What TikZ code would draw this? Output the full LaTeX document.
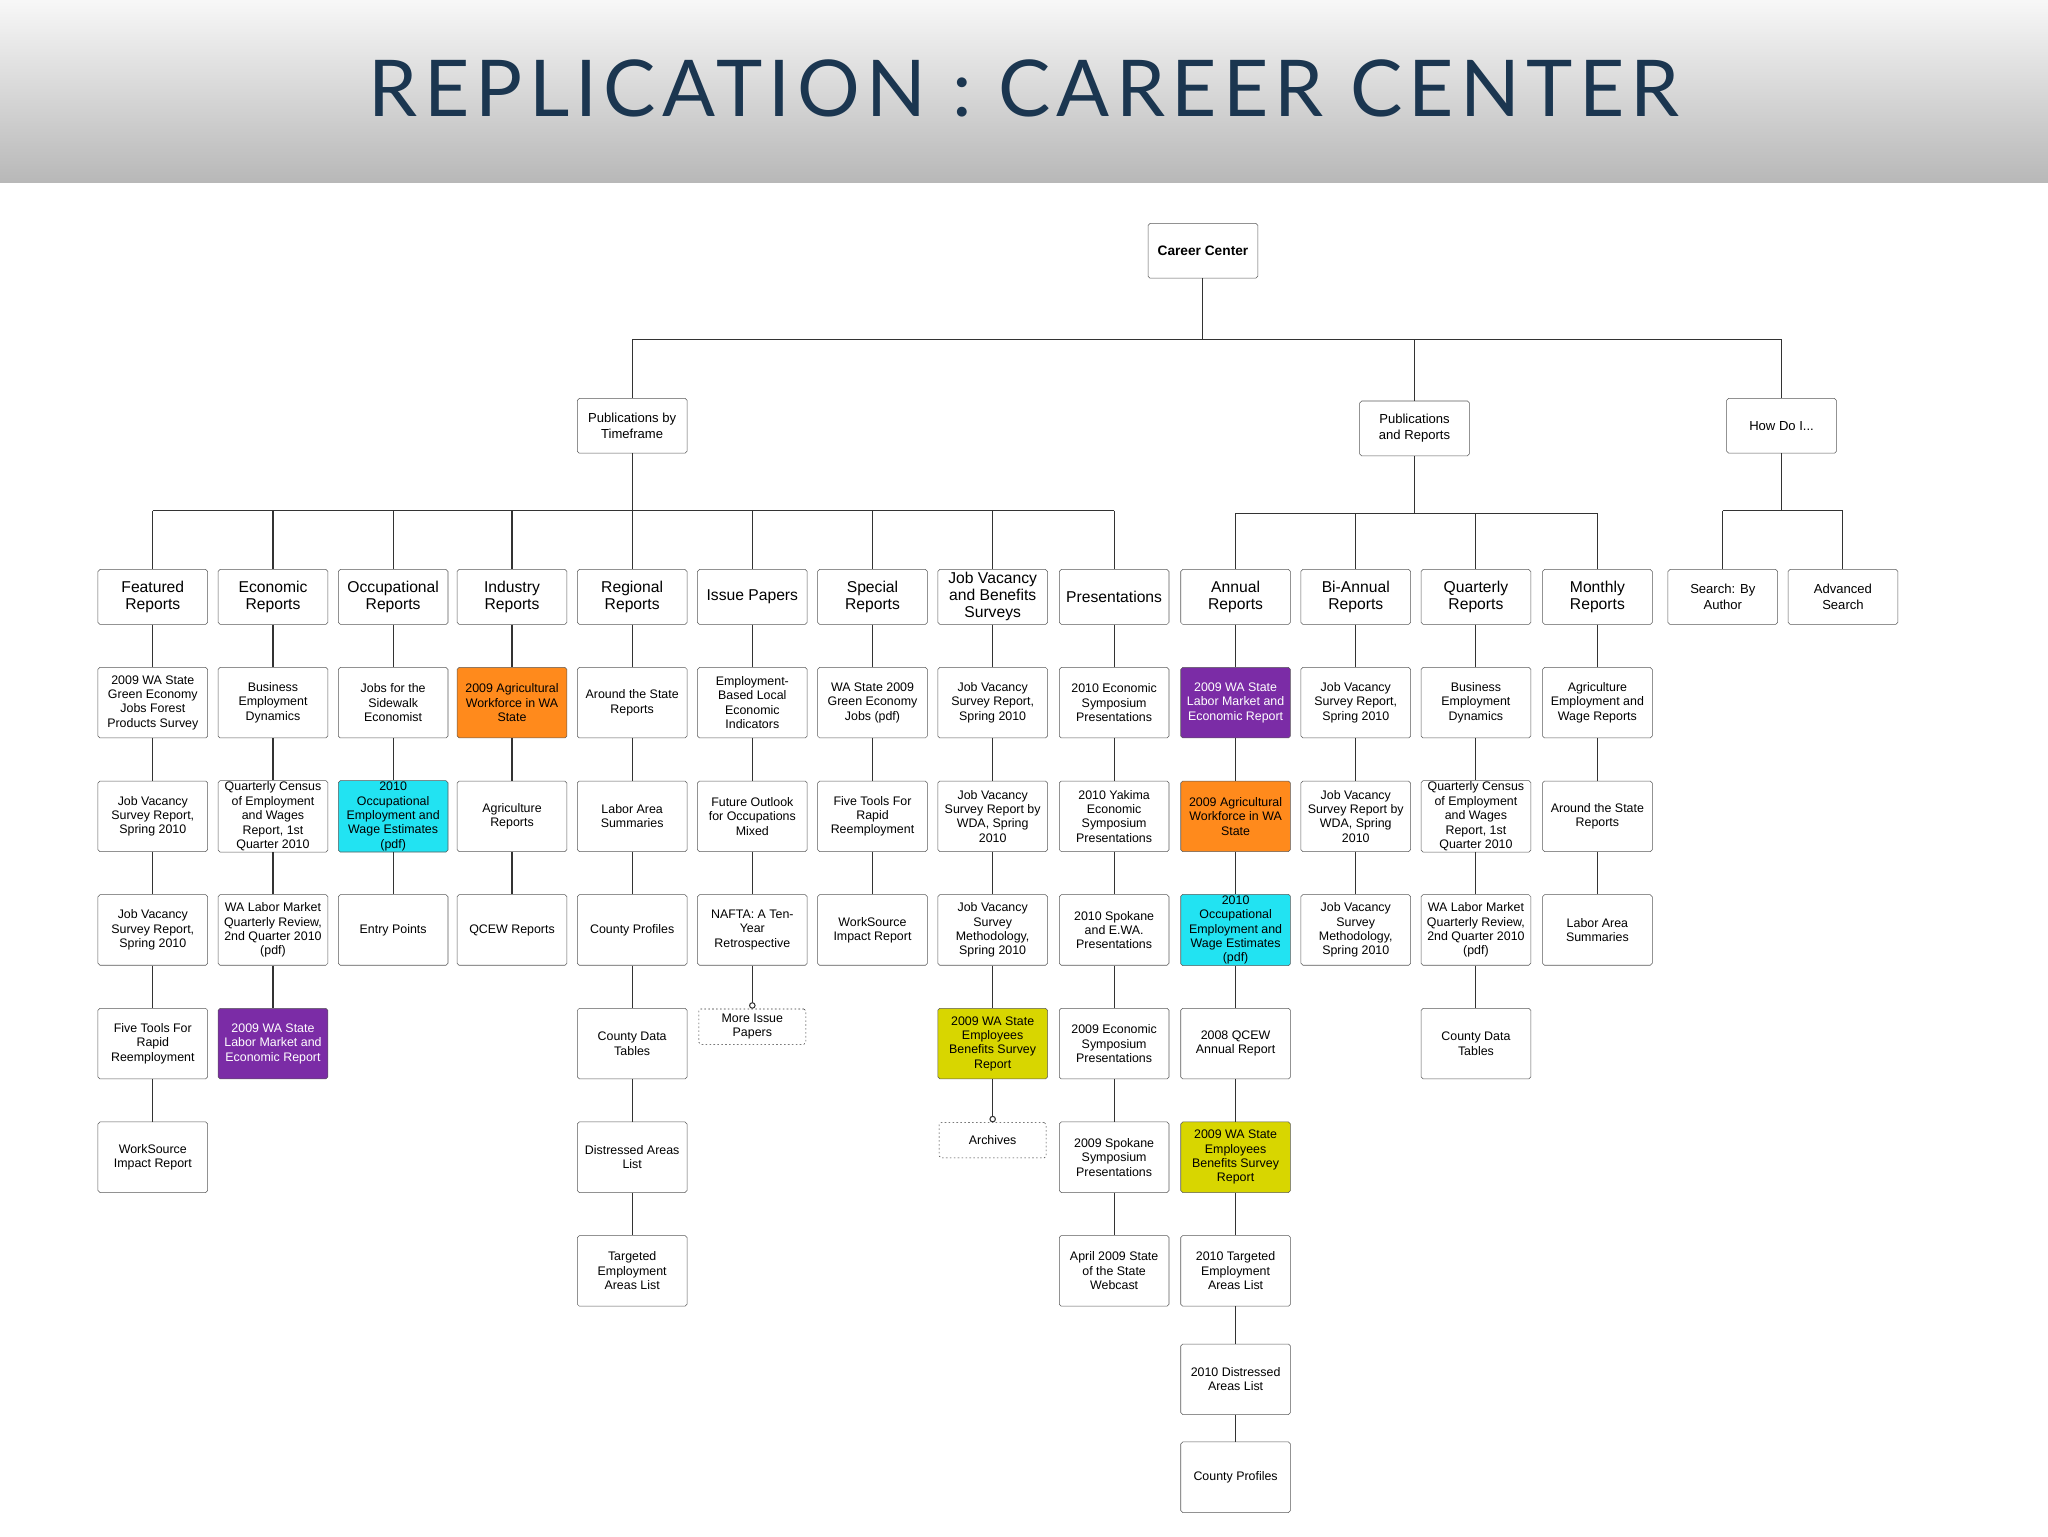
\documentclass[tikz,border=0pt]{standalone}
\usepackage{fontspec}
\setmainfont{Liberation Sans}
\newfontfamily\titlefont[LetterSpace=8]{Lato}
\usetikzlibrary{arrows.meta}
\definecolor{pur}{HTML}{7B2CA6}
\definecolor{org}{HTML}{FF8A1C}
\definecolor{cya}{HTML}{22E3F2}
\definecolor{yel}{HTML}{D8D600}
\definecolor{navy}{HTML}{1B3650}
\tikzset{
 box/.style={draw=black!65,rounded corners=1.5pt,minimum width=84pt,minimum height=54pt,align=center,inner sep=1pt,font=\fontsize{9.5}{11}\selectfont,fill=white},
 head/.style={box,minimum height=42pt,font=\fontsize{12}{13}\selectfont},
 purb/.style={fill=pur,text=white},
 orgb/.style={fill=org},
 cyab/.style={fill=cya},
 yelb/.style={fill=yel},
 dashbox/.style={box,draw=black!80,dash pattern=on 1.2pt off 1.8pt,minimum height=27pt,minimum width=82pt},
 ln/.style={draw=black!80,line width=0.8pt},
}
\newcommand\bx[5]{\node[box,#4] (#1) at (#2,#3) {#5};}
\newcommand\hd[3]{\node[head] (#1) at (#2,457) {#3};}
\begin{document}
\begin{tikzpicture}[x=1pt,y=-1pt]
\useasboundingbox (0,0) rectangle (1568,1176);
\shade[top color=black!3,bottom color=black!28] (0,0) rectangle (1568,140);
\node[text=navy,font=\titlefont\fontsize{60}{60}\selectfont] at (784,68) {REPLICATION : CAREER CENTER};
% top
\node[head,font=\fontsize{10.5}{12}\selectfont] (cc) at (921,192) {\textbf{Career Center}};
\node[head,font=\fontsize{10}{12}\selectfont] (pt) at (484,326) {Publications by\\Timeframe};
\node[head,font=\fontsize{10}{12}\selectfont] (pr) at (1083,328) {Publications\\and Reports};
\node[head,font=\fontsize{10}{12}\selectfont] (hd) at (1364,326) {How Do I...};
\draw[ln] (cc.south)--(921,260) (484,260)--(1364,260) (484,260)--(pt.north) (1083,260)--(pr.north) (1364,260)--(hd.north);
% headers
\hd{c1r0}{117}{Featured\\Reports}
\hd{c2r0}{209}{Economic\\Reports}
\hd{c3r0}{301}{Occupational\\Reports}
\hd{c4r0}{392}{Industry\\Reports}
\hd{c5r0}{484}{Regional\\Reports}
\hd{c6r0}{576}{Issue Papers}
\hd{c7r0}{668}{Special\\Reports}
\hd{c8r0}{760}{Job Vacancy\\and Benefits\\Surveys}
\hd{c9r0}{853}{Presentations}
\hd{c10r0}{946}{Annual\\Reports}
\hd{c11r0}{1038}{Bi-Annual\\Reports}
\hd{c12r0}{1130}{Quarterly\\Reports}
\hd{c13r0}{1223}{Monthly\\Reports}
\node[head,font=\fontsize{10}{12}\selectfont] (c14r0) at (1319,457) {Search: By\\Author};
\node[head,font=\fontsize{10}{12}\selectfont] (c15r0) at (1411,457) {Advanced\\Search};
\draw[ln] (pt.south)--(484,391) (117,391)--(853,391) (pr.south)--(1083,393) (946,393)--(1223,393) (hd.south)--(1364,391) (1319,391)--(1411,391);
\foreach \c/\x in {1/117,2/209,3/301,4/392,5/484,6/576,7/668,8/760,9/853}{\draw[ln] (\x,391)--(c\c r0.north);}
\foreach \c/\x in {10/946,11/1038,12/1130,13/1223}{\draw[ln] (\x,393)--(c\c r0.north);}
\foreach \c/\x in {14/1319,15/1411}{\draw[ln] (\x,391)--(c\c r0.north);}
% col1
\bx{c1r1}{117}{538}{}{2009 WA State\\Green Economy\\Jobs Forest\\Products Survey}
\bx{c1r2}{117}{625}{}{Job Vacancy\\Survey Report,\\Spring 2010}
\bx{c1r3}{117}{712}{}{Job Vacancy\\Survey Report,\\Spring 2010}
\bx{c1r4}{117}{799}{}{Five Tools For\\Rapid\\Reemployment}
\bx{c1r5}{117}{886}{}{WorkSource\\Impact Report}
% col2
\bx{c2r1}{209}{538}{}{Business\\Employment\\Dynamics}
\bx{c2r2}{209}{625}{}{Quarterly Census\\of Employment\\and Wages\\Report, 1st\\Quarter 2010}
\bx{c2r3}{209}{712}{}{WA Labor Market\\Quarterly Review,\\2nd Quarter 2010\\(pdf)}
\bx{c2r4}{209}{799}{purb}{2009 WA State\\Labor Market and\\Economic Report}
% col3
\bx{c3r1}{301}{538}{}{Jobs for the\\Sidewalk\\Economist}
\bx{c3r2}{301}{625}{cyab}{2010\\Occupational\\Employment and\\Wage Estimates\\(pdf)}
\bx{c3r3}{301}{712}{}{Entry Points}
% col4
\bx{c4r1}{392}{538}{orgb}{2009 Agricultural\\Workforce in WA\\State}
\bx{c4r2}{392}{625}{}{Agriculture\\Reports}
\bx{c4r3}{392}{712}{}{QCEW Reports}
% col5
\bx{c5r1}{484}{538}{}{Around the State\\Reports}
\bx{c5r2}{484}{625}{}{Labor Area\\Summaries}
\bx{c5r3}{484}{712}{}{County Profiles}
\bx{c5r4}{484}{799}{}{County Data\\Tables}
\bx{c5r5}{484}{886}{}{Distressed Areas\\List}
\bx{c5r6}{484}{973}{}{Targeted\\Employment\\Areas List}
% col6
\bx{c6r1}{576}{538}{}{Employment-\\Based Local\\Economic\\Indicators}
\bx{c6r2}{576}{625}{}{Future Outlook\\for Occupations\\Mixed}
\bx{c6r3}{576}{712}{}{NAFTA: A Ten-\\Year\\Retrospective}
\node[dashbox] (c6r4) at (576,786) {More Issue\\Papers};
% col7
\bx{c7r1}{668}{538}{}{WA State 2009\\Green Economy\\Jobs (pdf)}
\bx{c7r2}{668}{625}{}{Five Tools For\\Rapid\\Reemployment}
\bx{c7r3}{668}{712}{}{WorkSource\\Impact Report}
% col8
\bx{c8r1}{760}{538}{}{Job Vacancy\\Survey Report,\\Spring 2010}
\bx{c8r2}{760}{625}{}{Job Vacancy\\Survey Report by\\WDA, Spring\\2010}
\bx{c8r3}{760}{712}{}{Job Vacancy\\Survey\\Methodology,\\Spring 2010}
\bx{c8r4}{760}{799}{yelb}{2009 WA State\\Employees\\Benefits Survey\\Report}
\node[dashbox] (c8r5) at (760,873) {Archives};
% col9
\bx{c9r1}{853}{538}{}{2010 Economic\\Symposium\\Presentations}
\bx{c9r2}{853}{625}{}{2010 Yakima\\Economic\\Symposium\\Presentations}
\bx{c9r3}{853}{712}{}{2010 Spokane\\and E.WA.\\Presentations}
\bx{c9r4}{853}{799}{}{2009 Economic\\Symposium\\Presentations}
\bx{c9r5}{853}{886}{}{2009 Spokane\\Symposium\\Presentations}
\bx{c9r6}{853}{973}{}{April 2009 State\\of the State\\Webcast}
% col10
\bx{c10r1}{946}{538}{purb}{2009 WA State\\Labor Market and\\Economic Report}
\bx{c10r2}{946}{625}{orgb}{2009 Agricultural\\Workforce in WA\\State}
\bx{c10r3}{946}{712}{cyab}{2010\\Occupational\\Employment and\\Wage Estimates\\(pdf)}
\bx{c10r4}{946}{799}{}{2008 QCEW\\Annual Report}
\bx{c10r5}{946}{886}{yelb}{2009 WA State\\Employees\\Benefits Survey\\Report}
\bx{c10r6}{946}{973}{}{2010 Targeted\\Employment\\Areas List}
\bx{c10r7}{946}{1056}{}{2010 Distressed\\Areas List}
\bx{c10r8}{946}{1131}{}{County Profiles}
% col11
\bx{c11r1}{1038}{538}{}{Job Vacancy\\Survey Report,\\Spring 2010}
\bx{c11r2}{1038}{625}{}{Job Vacancy\\Survey Report by\\WDA, Spring\\2010}
\bx{c11r3}{1038}{712}{}{Job Vacancy\\Survey\\Methodology,\\Spring 2010}
% col12
\bx{c12r1}{1130}{538}{}{Business\\Employment\\Dynamics}
\bx{c12r2}{1130}{625}{}{Quarterly Census\\of Employment\\and Wages\\Report, 1st\\Quarter 2010}
\bx{c12r3}{1130}{712}{}{WA Labor Market\\Quarterly Review,\\2nd Quarter 2010\\(pdf)}
\bx{c12r4}{1130}{799}{}{County Data\\Tables}
% col13
\bx{c13r1}{1223}{538}{}{Agriculture\\Employment and\\Wage Reports}
\bx{c13r2}{1223}{625}{}{Around the State\\Reports}
\bx{c13r3}{1223}{712}{}{Labor Area\\Summaries}
% edges
\foreach \c/\n in {1/5,2/4,3/3,4/3,5/6,6/3,7/3,8/4,9/6,10/8,11/3,12/4,13/3}{
 \foreach \r in {1,...,\n}{
  \pgfmathtruncatemacro\p{\r-1}
  \draw[ln] (c\c r\p.south)--(c\c r\r.north);
 }}
\draw[ln,-{Circle[open,length=5pt]}] (c6r3.south)--(c6r4.north);
\draw[ln,-{Circle[open,length=5pt]}] (c8r4.south)--(c8r5.north);
\end{tikzpicture}
\end{document}
